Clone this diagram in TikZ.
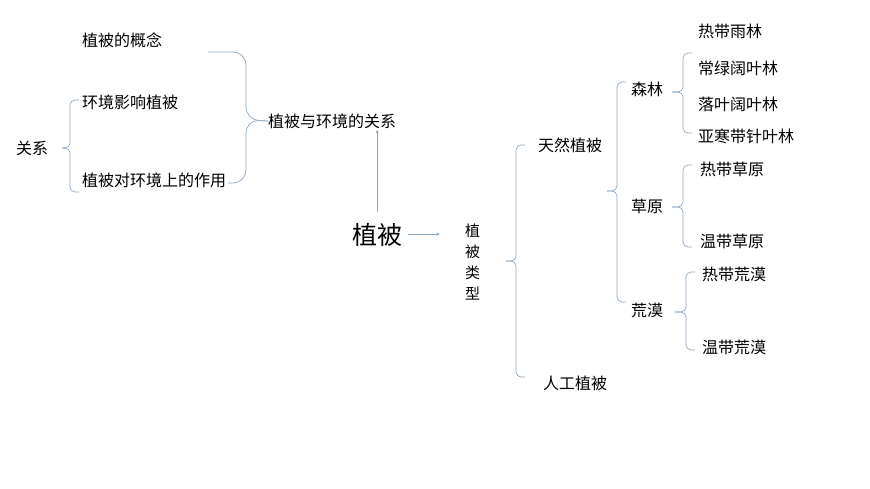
\documentclass[tikz,border=0pt]{standalone}
\usepackage{fontspec}
\setmainfont{Noto Sans CJK SC}
\usepackage{xcolor}
\usepackage{tikz}
\usetikzlibrary{arrows.meta}
\definecolor{linkblue}{RGB}{141,167,194}
\tikzset{every node/.append style={font=\fontsize{16}{19}\selectfont, inner sep=0pt, anchor=west}}
\tikzset{brc/.style={draw=linkblue, line width=0.7pt, rounded corners=5pt}}
% left curly brace: x, top, mid, bottom, tick length
\newcommand{\brcleft}[5]{%
    \draw[brc] (#1+9,#2) -- (#1,#2) -- (#1,#3) -- (#1-#5,#3);
    \draw[brc] (#1+9,#4) -- (#1,#4) -- (#1,#3) -- (#1-#5,#3);
}

\begin{document}
\begin{tikzpicture}[x=1pt, y=-1pt, >={Stealth[length=4pt,width=3pt]}]
    \useasboundingbox (0,0) rectangle (870,489);
    % left part
    \node (gainian) at (82,40) {植被的概念};
    \node (yingxiang) at (82,102) {环境影响植被};
    \node (zuoyong) at (82,180) {植被对环境上的作用};
    \node (guanxi) at (16,148) {关系};
    \node (guanxiall) at (268,121) {植被与环境的关系};
    \brcleft{70}{100}{148}{192}{8}
    \draw[brc, rounded corners=13pt] (208,52) -- (246,52) -- (246,120) -- (guanxiall.west);
    \draw[brc, rounded corners=13pt] (228,183) -- (246,183) -- (246,120) -- (guanxiall.west);
    % centre
    \node[font=\fontsize{25}{30}\selectfont] (zhibei) at (352,235) {植被};
    \node[align=center, font=\fontsize{15}{21}\selectfont] (leixing) at (465,262) {植\\被\\类\\型};
    \draw[->, linkblue, line width=0.6pt] ([yshift=11pt]zhibei.north) -- ([yshift=-1pt]zhibei.north |- guanxiall.south);
    \draw[->, linkblue, line width=0.6pt] ([xshift=6pt,yshift=1pt]zhibei.east) -- ([xshift=-25pt,yshift=1pt]leixing.west |- zhibei.east);
    % types
    \node (tianran) at (538,145) {天然植被};
    \node (rengong) at (543,383) {人工植被};
    \brcleft{516}{145}{261}{377}{10}
    \node (senlin) at (631,89) {森林};
    \node (caoyuan) at (631,206) {草原};
    \node (huangmo) at (631,310) {荒漠};
    \brcleft{617}{82}{191}{302}{10}
    % forests
    \node (yulin) at (698,31) {热带雨林};
    \node (changlv) at (698,68) {常绿阔叶林};
    \node (luoye) at (698,104) {落叶阔叶林};
    \node (zhenye) at (698,136) {亚寒带针叶林};
    \brcleft{683}{53}{92}{133}{11}
    % grassland
    \node (recao) at (700,169) {热带草原};
    \node (wencao) at (700,241) {温带草原};
    \brcleft{683}{165}{207}{247}{11}
    % desert
    \node (remo) at (702,274) {热带荒漠};
    \node (wenmo) at (702,347) {温带荒漠};
    \brcleft{686}{272}{312}{350}{11}
\end{tikzpicture}
\end{document}
